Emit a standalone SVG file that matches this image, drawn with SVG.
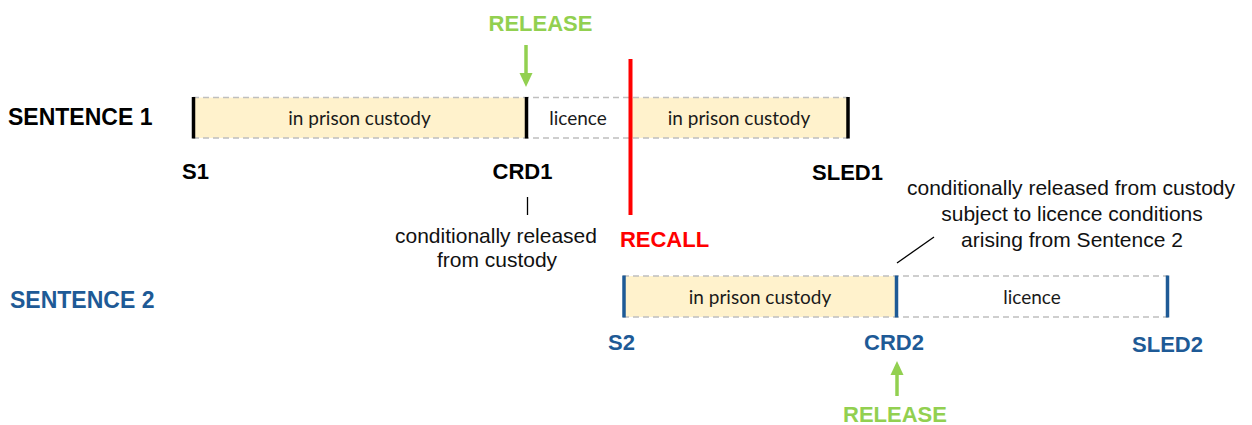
<svg xmlns="http://www.w3.org/2000/svg" width="1252" height="425" viewBox="0 0 1252 425">
<defs>
<style>
.lbl{font-family:"Liberation Sans",Arial,sans-serif;font-weight:bold;font-size:22px}
.blk{fill:#000}
.blu{fill:#1E5A96}
.grn{fill:#92D050}
.red{fill:#FF0000}
.seg{font-family:Lato,"Open Sans",sans-serif;font-size:19px;fill:#1a1a1a;text-anchor:middle}
.note{font-family:"Liberation Sans",Arial,sans-serif;font-size:21px;fill:#111;text-anchor:middle}
.dash{stroke:#BFBFBF;stroke-width:1.5;stroke-dasharray:6 4;fill:none}
.cust{fill:#FFF2CC}
.tickb{stroke:#000;stroke-width:3.5}
.tickl{stroke:#1E5A96;stroke-width:3.5}
</style>
</defs>
<rect width="1252" height="425" fill="#fff"/>

<g id="sentence1">
<text class="lbl blk" x="8" y="125" style="font-size:23px">SENTENCE 1</text>
<rect class="cust" x="193" y="97.5" width="333" height="40.5"/>
<rect class="cust" x="630" y="97.5" width="218" height="40.5"/>
<line class="dash" x1="193" y1="97.5" x2="848" y2="97.5"/>
<line class="dash" x1="193" y1="138" x2="848" y2="138"/>
<line class="tickb" x1="193.5" y1="97" x2="193.5" y2="138.5"/>
<line class="tickb" x1="526.5" y1="97" x2="526.5" y2="138.5"/>
<line class="tickb" x1="848" y1="97" x2="848" y2="138.5"/>
<text class="seg" x="359.5" y="125">in prison custody</text>
<text class="seg" x="578" y="125">licence</text>
<text class="seg" x="739" y="125">in prison custody</text>
<text class="lbl blk" x="182" y="179">S1</text>
<text class="lbl blk" x="522.5" y="179" text-anchor="middle">CRD1</text>
<text class="lbl blk" x="847.5" y="180" text-anchor="middle">SLED1</text>
</g>

<g id="release1">
<text class="lbl grn" x="540.5" y="31" text-anchor="middle">RELEASE</text>
</g>

<g id="recall">
<line x1="630.5" y1="59" x2="630.5" y2="215" stroke="#FF0000" stroke-width="4"/>
<text class="lbl red" x="664.5" y="247" text-anchor="middle">RECALL</text>
</g>

<g id="note1">
<text class="note" x="496" y="243">conditionally released</text>
<text class="note" x="497" y="267">from custody</text>
</g>

<g id="note2">
<text class="note" x="1071" y="195">conditionally released from custody</text>
<text class="note" x="1072" y="221">subject to licence conditions</text>
<text class="note" x="1072" y="247">arising from Sentence 2</text>
</g>

<g id="sentence2">
<text class="lbl blu" x="10" y="308" style="font-size:23px">SENTENCE 2</text>
<rect class="cust" x="623" y="276" width="273.5" height="41"/>
<line class="dash" x1="623" y1="276" x2="1168" y2="276"/>
<line class="dash" x1="623" y1="317" x2="1168" y2="317"/>
<line class="tickl" x1="624" y1="275.5" x2="624" y2="317.5"/>
<line class="tickl" x1="896.5" y1="275.5" x2="896.5" y2="317.5"/>
<line class="tickl" x1="1167.5" y1="275.5" x2="1167.5" y2="317.5"/>
<text class="seg" x="760" y="304">in prison custody</text>
<text class="seg" x="1032" y="304">licence</text>
<text class="lbl blu" x="621.5" y="350" text-anchor="middle">S2</text>
<text class="lbl blu" x="894" y="350" text-anchor="middle">CRD2</text>
<text class="lbl blu" x="1167.5" y="352" text-anchor="middle">SLED2</text>
</g>

<g id="release2">
<text class="lbl grn" x="895" y="422" text-anchor="middle">RELEASE</text>
</g>

<g id="connectors">
<line x1="526" y1="45" x2="526" y2="76" stroke="#92D050" stroke-width="3.5"/>
<polygon points="519.5,73 532.5,73 526,87" fill="#92D050"/>
<line x1="897" y1="396" x2="897" y2="372" stroke="#92D050" stroke-width="3.5"/>
<polygon points="890.5,375 903.5,375 897,361" fill="#92D050"/>
<line x1="527.5" y1="197" x2="527.5" y2="215" stroke="#000" stroke-width="1.3"/>
<line x1="897" y1="263" x2="934" y2="237" stroke="#000" stroke-width="1.3"/>
</g>
</svg>
